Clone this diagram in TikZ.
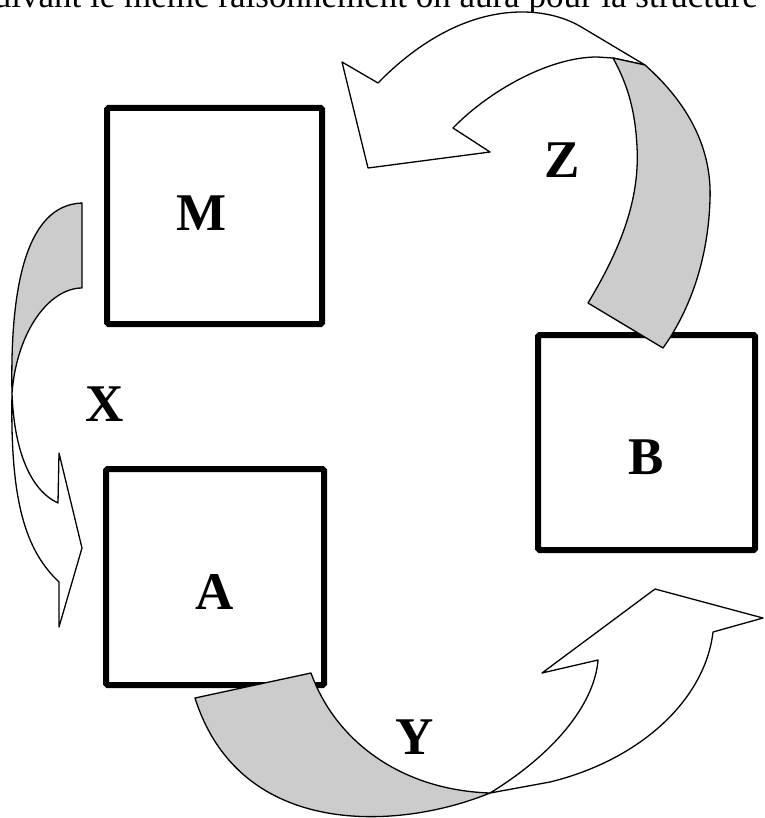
\documentclass[tikz,border=0pt]{standalone}
\usepackage{fontspec}
\setmainfont{Liberation Serif}
\definecolor{ribbongray}{RGB}{204,204,204}
\begin{document}
\begin{tikzpicture}[x=1pt,y=-1pt,
  boxnode/.style={draw, line width=6pt, rounded corners=1.5pt, inner sep=0pt},
  lab/.style={font=\fontsize{53}{60}\selectfont\bfseries, inner sep=0pt},
  ribbon/.style={draw, line width=1.3pt, fill=white, line join=round},
  ribbonback/.style={ribbon, fill=ribbongray}]
\useasboundingbox (0,0) rectangle (764,818);
\begin{scope}
  \clip (0,0) rectangle (764,818);
  \node[anchor=base east, inner sep=0pt, font=\fontsize{35}{40}\selectfont] (top) at (758,8) {uivant le même raisonnement on aura pour la structure};
\end{scope}
% boxes
\node[boxnode, minimum width=215pt, minimum height=216pt] (M) at (214.5,216) {};
\node[boxnode, minimum width=218pt, minimum height=216pt] (A) at (215,577) {};
\node[boxnode, minimum width=217pt, minimum height=215pt] (B) at (646.5,442.5) {};
% labels
\node[lab] (lM) at (202,213) {M};
\node[lab] (lA) at (215,592) {A};
\node[lab] (lB) at (646,457) {B};
\node[lab] (lX) at (105,404) {X};
\node[lab] (lY) at (415,737) {Y};
\node[lab] (lZ) at (562,160) {Z};
% Z ribbon arrow
\draw[ribbon] (645,65) -- (583,28) .. controls (570,20) and (550,12) .. (522,12)
  .. controls (470,12) and (420,40) .. (378,83) -- (342,62) -- (368,168) -- (490,152) -- (453,128)
  .. controls (490,90) and (550,57) .. (597,57) -- (613,58) -- cycle;
\draw[ribbonback] (613,58) -- (645,65) .. controls (690,105) and (712,150) .. (710,200)
  .. controls (708,260) and (690,310) .. (663,348) -- (588,303)
  .. controls (620,250) and (640,200) .. (637,147) .. controls (635,105) and (625,80) .. (613,58) -- cycle;
% X ribbon arrow
\draw[ribbonback] (82,203) -- (82,288) .. controls (50,288) and (17,330) .. (12,393)
  .. controls (10,290) and (25,205) .. (82,203) -- cycle;
\draw[ribbon] (12,393) .. controls (14,450) and (30,490) .. (58,503) -- (59,453) -- (82,548) -- (59,627) -- (59,582)
  .. controls (25,550) and (10,500) .. (12,393) -- cycle;
% Y ribbon arrow
\draw[ribbonback] (195,698) -- (311,673) .. controls (335,740) and (400,790) .. (490,793)
  .. controls (400,830) and (240,840) .. (195,698) -- cycle;
\draw[ribbon] (490,793) .. controls (560,750) and (595,700) .. (598,660) -- (542,673) -- (655,589) -- (763,618) -- (713,632)
  .. controls (705,700) and (640,760) .. (550,782) -- (490,793) -- cycle;
\end{tikzpicture}
\end{document}
